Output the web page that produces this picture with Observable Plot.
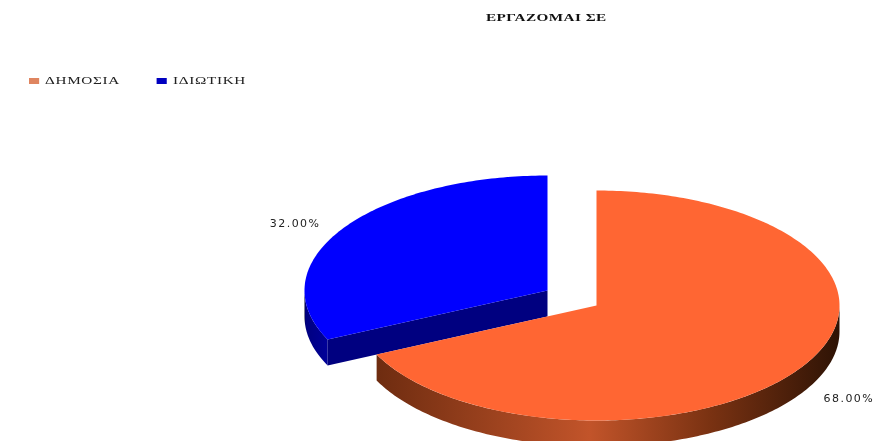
<!DOCTYPE html>
<html><head><meta charset="utf-8">
<script src="https://cdn.jsdelivr.net/npm/d3@7"></script>
<script src="https://cdn.jsdelivr.net/npm/@observablehq/plot@0.6"></script>
<style>
html,body{margin:0;padding:0;background:#fff;overflow:hidden}
h2{margin:0;height:42px;padding:12px 0 0 486px;box-sizing:border-box;font:bold 10px "Liberation Serif",serif;letter-spacing:.3px;color:#111;white-space:nowrap;line-height:12px;transform:scaleX(1.52);transform-origin:486px 0}
.lg-swatches-wrap,.lg-swatches{margin:0!important;min-height:0!important}
.lg-swatches{height:68px;padding:33px 0 0 20px;box-sizing:border-box;font:10.5px "Liberation Serif",serif!important;letter-spacing:.45px;color:#222;display:flex;align-items:flex-start;line-height:14px;transform:scaleX(1.45);transform-origin:0 0}
.lg-swatch{margin:0!important;width:88.3px;display:inline-flex!important;align-items:center}
.lg-swatch svg{margin-right:4.1px!important}
svg[class^="plot"]{display:block}
.lab text{letter-spacing:1.45px}
h2,.lg-swatches,.lab{filter:blur(.3px)}
</style></head><body>
<h2 id="title"></h2>
<div id="legend"></div>
<div id="chart"></div>
<script>
const title = "ΕΡΓΑΖΟΜΑΙ ΣΕ";
const names = ["ΔΗΜΟΣΙΑ", "ΙΔΙΩΤΙΚΗ"];
const values = [68, 32];
const labels = ["68.00%", "32.00%"];
const topColors = ["#FF6633", "#0000FF"];
const legendColors = ["#DF8560", "#0000C0"];
const sideFills = ["url(#sideOrange)", "url(#sideBlue)"];
const faceColor = "#000080";
const orangeStops = [[0, "#6e2c10"], [0.46, "#c2542a"], [0.72, "#7a3212"], [1, "#2e1305"]];
const blueStops = [[0, "#000030"], [0.05, "#000080"], [1, "#000099"]];

const W = 874, svgH = 331, headH = 110;
const RX = 243, RY = 115, DEPTH = 26;
const cx = 596, cy = 305 - headH;
const depth = DEPTH / RY;
const explode = [{dx: 0, dy: 0}, {dx: -49 / RX, dy: -15 / RY}];

const arcs = d3.pie().sort(null).startAngle(0).endAngle(2 * Math.PI)(values);
const pt = (a, o, d = 0) => ({x: Math.sin(a) + o.dx, y: -Math.cos(a) + o.dy + d});
const arcPts = (a0, a1, o, d = 0) => {
  const n = Math.max(2, Math.ceil(Math.abs(a1 - a0) * 60));
  return d3.range(n + 1).map(i => pt(a0 + (a1 - a0) * i / n, o, d));
};

const tops = arcs.map((s, i) => {
  const o = explode[i], c = {x: o.dx, y: o.dy};
  return [c, ...arcPts(s.startAngle, s.endAngle, o), c];
});
const sides = arcs.map((s, i) => {
  const o = explode[i];
  const a0 = Math.max(s.startAngle, Math.PI / 2), a1 = Math.min(s.endAngle, 3 * Math.PI / 2);
  return [...arcPts(a0, a1, o), ...arcPts(a1, a0, o, depth)];
});
// radial cut face of the exploded slice
const faceSlice = arcs[1], faceOffset = explode[1];
const faces = [
  {x: faceOffset.dx, y: faceOffset.dy},
  pt(faceSlice.startAngle, faceOffset),
  pt(faceSlice.startAngle, faceOffset, depth),
  {x: faceOffset.dx, y: faceOffset.dy + depth}
];
const labelData = arcs.map((s, i) => {
  const m = (s.startAngle + s.endAngle) / 2, o = explode[i];
  const cos = Math.cos(m);
  return {x: Math.sin(m) * 1.23 + o.dx, y: -cos * 1.09 + o.dy + (cos < 0 ? depth : 0), label: labels[i]};
});

const gradient = (id, stops) => {
  const g = d3.create("svg:linearGradient").attr("id", id);
  stops.forEach(([o, c]) => g.append("stop").attr("offset", o).attr("stop-color", c));
  return g.node();
};
const defs = () => {
  const d = d3.create("svg:defs");
  d.append(() => gradient("sideOrange", orangeStops));
  d.append(() => gradient("sideBlue", blueStops));
  return d.node();
};
const poly = (data, fill) => Plot.line(data, {x: "x", y: "y", fill, stroke: "none"});

const chart = Plot.plot({
  width: W, height: svgH,
  margin: 0,
  x: {axis: null, domain: [-cx / RX, (W - cx) / RX], range: [0, W]},
  y: {axis: null, domain: [-cy / RY, (svgH - cy) / RY], range: [0, svgH]},
  marks: [
    defs,
    poly(sides[1], sideFills[1]),
    poly(faces, faceColor),
    poly(tops[1], topColors[1]),
    poly(sides[0], sideFills[0]),
    poly(tops[0], topColors[0]),
    Plot.text(labelData, {x: "x", y: "y", text: "label", fontSize: 11, fontFamily: "DejaVu Sans", fill: "#222", className: "lab"})
  ]
});
document.getElementById("title").textContent = title;
document.getElementById("legend").append(Plot.legend({
  color: {domain: names, range: legendColors, type: "ordinal"},
  swatchWidth: 7, swatchHeight: 6, className: "lg"
}));
document.getElementById("chart").append(chart);
</script>
</body></html>
